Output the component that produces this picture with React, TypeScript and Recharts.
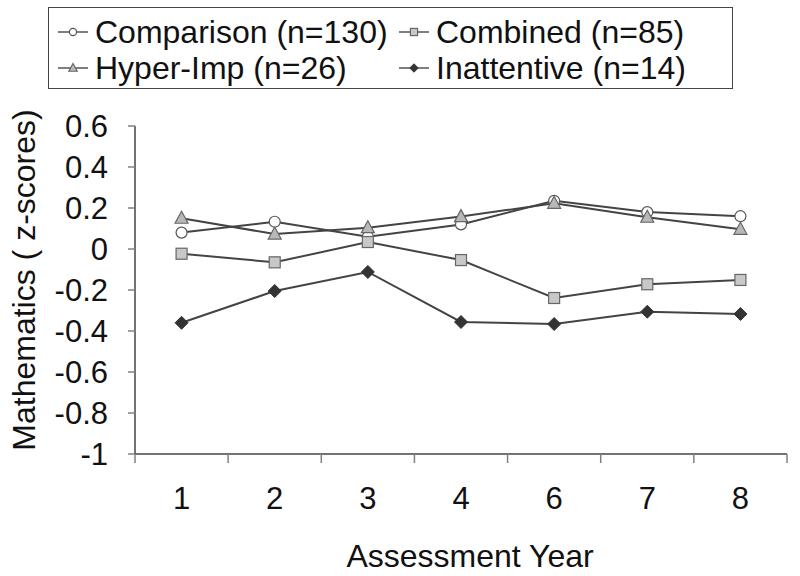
import React from 'react';
import { LineChart, Line, XAxis, YAxis } from 'recharts';

const years = ['1', '2', '3', '4', '6', '7', '8'];
const comparison = [0.08, 0.133, 0.06, 0.12, 0.235, 0.18, 0.16];
const combined = [-0.023, -0.065, 0.034, -0.054, -0.239, -0.172, -0.151];
const hyperImp = [0.15, 0.073, 0.104, 0.158, 0.223, 0.155, 0.096];
const inattentive = [-0.36, -0.205, -0.112, -0.356, -0.366, -0.306, -0.317];
const yTicks = [-1, -0.8, -0.6, -0.4, -0.2, 0, 0.2, 0.4, 0.6];
const seriesKeys = ['comparison', 'combined', 'hyperImp', 'inattentive'];
const seriesNames = ['Comparison (n=130)', 'Combined (n=85)', 'Hyper-Imp (n=26)', 'Inattentive (n=14)'];
const seriesShapes = ['circle', 'square', 'triangle', 'diamond'];
const xTitle = 'Assessment Year';
const yTitle = 'Mathematics ( z-scores)';

const data = years.map((year, i) => ({
  year,
  comparison: comparison[i],
  combined: combined[i],
  hyperImp: hyperImp[i],
  inattentive: inattentive[i],
}));

const FONT = '"Liberation Sans", Arial, Helvetica, sans-serif';
const LINE = '#444444';
const W = 800;
const H = 576;
const MARGIN = { top: 126, right: 13, bottom: 0, left: 0 };
const Y_AXIS_W = 135;
const X_AXIS_H = 122;
const X_LABEL_GAP = 33;
const BAND = (W - MARGIN.left - MARGIN.right - Y_AXIS_W) / years.length;

function Marker({ shape, cx, cy, s }: { shape: string; cx: number; cy: number; s: number }) {
  if (shape === 'circle') {
    return <circle cx={cx} cy={cy} r={5.5 * s} fill="#ffffff" stroke="#555555" strokeWidth={1.2} />;
  }
  if (shape === 'square') {
    const h = 5.5 * s;
    return <rect x={cx - h} y={cy - h} width={2 * h} height={2 * h} fill="#c8c8c8" stroke="#666666" strokeWidth={1.2} />;
  }
  if (shape === 'triangle') {
    const w = 6.5 * s;
    const pts = `${cx},${cy - 7 * s} ${cx + w},${cy + 5 * s} ${cx - w},${cy + 5 * s}`;
    return <polygon points={pts} fill="#b8b8b8" stroke="#666666" strokeWidth={1.2} />;
  }
  const d = 6.5 * s;
  const pts = `${cx},${cy - d} ${cx + d},${cy} ${cx},${cy + d} ${cx - d},${cy}`;
  return <polygon points={pts} fill="#333333" stroke="#333333" strokeWidth={1} />;
}

function XTick(props: any) {
  const { x, y, payload, index } = props;
  const axisY = y - X_LABEL_GAP;
  const left = x - BAND / 2;
  const right = x + BAND / 2;
  return (
    <g>
      <line x1={left} y1={axisY} x2={left} y2={axisY + 9} stroke="#808080" strokeWidth={1.5} />
      {index === years.length - 1 && (
        <line x1={right} y1={axisY} x2={right} y2={axisY + 9} stroke="#808080" strokeWidth={1.5} />
      )}
      <text x={x} y={y} dy="0.71em" textAnchor="middle" fontFamily={FONT} fontSize={31} fill="#111">
        {payload.value}
      </text>
    </g>
  );
}

function YTitle(props: any) {
  const vb = props.viewBox || { x: 0, y: 0, width: 0, height: 0 };
  const cx = vb.x + 24;
  const cy = vb.y + vb.height / 2 - 10;
  return (
    <text
      x={cx}
      y={cy}
      transform={`rotate(-90, ${cx}, ${cy})`}
      textAnchor="middle"
      dominantBaseline="central"
      fontFamily={FONT}
      fontSize={32}
      fill="#111"
    >
      {yTitle}
    </text>
  );
}

function XTitle(props: any) {
  const vb = props.viewBox || { x: 0, y: 0, width: 0, height: 0 };
  return (
    <text
      x={vb.x + vb.width / 2 + 9}
      y={vb.y + 113}
      textAnchor="middle"
      fontFamily={FONT}
      fontSize={32}
      fill="#111"
    >
      {xTitle}
    </text>
  );
}

function LegendItem({ idx }: { idx: number }) {
  return (
    <div style={{ display: 'flex', alignItems: 'center', whiteSpace: 'nowrap' }}>
      <svg width={30} height={16} style={{ marginRight: 7, overflow: 'visible' }}>
        <line x1={0} y1={8} x2={30} y2={8} stroke="#555" strokeWidth={1.5} />
        <Marker shape={seriesShapes[idx]} cx={15} cy={8} s={0.65} />
      </svg>
      <span style={{ fontFamily: FONT, fontSize: 32, color: '#111', lineHeight: '36px' }}>{seriesNames[idx]}</span>
    </div>
  );
}

export default function App() {
  const legendPos = [
    { left: 9, top: 6 },
    { left: 350, top: 6 },
    { left: 9, top: 42 },
    { left: 350, top: 42 },
  ];
  return (
    <div style={{ position: 'absolute', left: 0, top: 0, width: W, height: H, background: '#fff' }}>
      <LineChart width={W} height={H} data={data} margin={MARGIN}>
        <XAxis
          dataKey="year"
          type="category"
          scale="band"
          height={X_AXIS_H}
          tickLine={false}
          tickSize={0}
          tickMargin={X_LABEL_GAP}
          axisLine={{ stroke: LINE, strokeWidth: 1.5 }}
          tick={<XTick />}
          interval={0}
          label={<XTitle />}
        />
        <YAxis
          type="number"
          domain={[-1, 0.6]}
          ticks={yTicks}
          width={Y_AXIS_W}
          interval={0}
          axisLine={{ stroke: LINE, strokeWidth: 1.5 }}
          tickLine={{ stroke: '#808080', strokeWidth: 1.5 }}
          tickSize={7}
          tickMargin={20}
          tick={{ fontFamily: FONT, fontSize: 31, fill: '#111' }}
          label={<YTitle />}
        />
        {seriesKeys.map((k, i) => (
          <Line
            key={k}
            dataKey={k}
            name={seriesNames[i]}
            stroke={LINE}
            strokeWidth={2}
            isAnimationActive={false}
            dot={(p: any) => <Marker key={`${k}-${p.index}`} shape={seriesShapes[i]} cx={p.cx} cy={p.cy} s={1} />}
            activeDot={false}
          />
        ))}
      </LineChart>
      <div
        style={{
          position: 'absolute',
          left: 48,
          top: 7,
          width: 685,
          height: 82,
          border: '1.5px solid #444',
          boxSizing: 'border-box',
        }}
      >
        {seriesKeys.map((k, i) => (
          <div key={k} style={{ position: 'absolute', left: legendPos[i].left, top: legendPos[i].top }}>
            <LegendItem idx={i} />
          </div>
        ))}
      </div>
    </div>
  );
}
